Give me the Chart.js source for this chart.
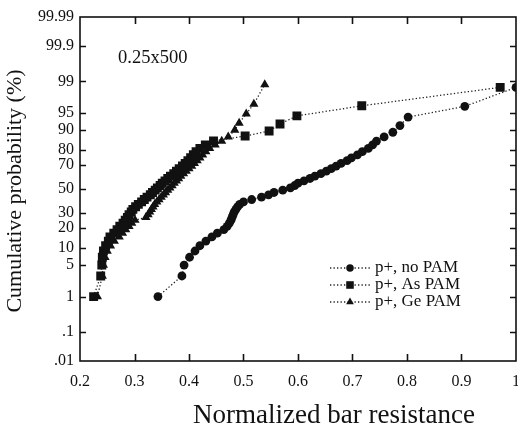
<!DOCTYPE html>
<html>
<head>
<meta charset="utf-8">
<script src="https://cdn.jsdelivr.net/npm/chart.js@4.4.1/dist/chart.umd.min.js"></script>
<style>
  html, body { margin: 0; padding: 0; background: #fff; }
  #wrap { position: relative; width: 518px; height: 428px; }
</style>
</head>
<body>
<div id="wrap"><canvas id="probChart"></canvas></div>
<script>
// ---- data (x = normalized resistance, y = cumulative %) ----
const seriesNames = ['p+, no PAM', 'p+, As PAM', 'p+, Ge PAM'];

const noPamX = [0.343,0.387,0.391,0.401,0.411,0.420,0.431,0.442,0.452,0.464,0.470,0.474,0.477,0.479,0.481,0.483,0.486,0.489,0.493,0.500,0.515,0.533,0.546,0.556,0.572,0.586,0.594,0.600,0.611,0.622,0.631,0.642,0.652,0.661,0.670,0.679,0.690,0.698,0.709,0.718,0.729,0.737,0.744,0.758,0.774,0.787,0.802,0.906,1.0];
const noPamY = [1,3,5,7,9,11,13,15,17,19,21,23,25,27,29,31,33,35,37,39,41,43,45,47,49,51,53,55,57,59,61,63,65,67,69,71,73,75,77,79,81,83,85,87,89,91.5,94,96.3,98.6];

const asPamX = [0.225,0.238,0.240,0.241,0.243,0.247,0.252,0.255,0.262,0.268,0.273,0.279,0.283,0.287,0.290,0.294,0.297,0.302,0.307,0.313,0.318,0.323,0.329,0.333,0.338,0.342,0.347,0.351,0.356,0.361,0.366,0.372,0.377,0.382,0.388,0.393,0.398,0.403,0.408,0.413,0.420,0.430,0.445,0.503,0.547,0.567,0.598,0.717,0.971];
const asPamY = [1,3,5,7,9,11,13,15,17,19,21,23,25,27,29,31,33,35,37,39,41,43,45,47,49,51,53,55,57,59,61,63,65,67,69,71,73,75,77,79,81,83,85,87.4,89.5,92,94.3,96.4,98.6];

const gePamX = [0.232,0.241,0.243,0.246,0.250,0.256,0.263,0.272,0.278,0.284,0.290,0.295,0.301,0.321,0.325,0.328,0.331,0.334,0.337,0.341,0.345,0.349,0.353,0.357,0.361,0.365,0.369,0.373,0.377,0.381,0.385,0.390,0.395,0.400,0.405,0.410,0.415,0.420,0.425,0.431,0.438,0.448,0.460,0.472,0.484,0.492,0.505,0.519,0.539];
const gePamY = [1,3,5,7,9,11,13,15,17,19,21,23,25,27,29,31,33,35,37,39,41,43,45,47,49,51,53,55,57,59,61,63,65,67,69,71,73,75,77,79,81,83,85,87,89.9,92.3,94.8,96.7,98.8];

const xTicks = [0.2,0.3,0.4,0.5,0.6,0.7,0.8,0.9,1.0];
const xTickLabels = ['0.2','0.3','0.4','0.5','0.6','0.7','0.8','0.9','1'];
const probTicks = [0.01,0.1,1,5,10,20,30,50,70,80,90,95,99,99.9,99.99];
const probTickLabels = ['.01','.1','1','5','10','20','30','50','70','80','90','95','99','99.9','99.99'];

const FONT = '"Liberation Serif", "Times New Roman", serif';

// inverse normal CDF (Acklam)
function probit(p) {
  const a = [-39.6968302866538, 220.946098424521, -275.928510446969, 138.357751867269, -30.6647980661472, 2.50662827745924];
  const b = [-54.4760987982241, 161.585836858041, -155.698979859887, 66.8013118877197, -13.2806815528857];
  const c = [-0.00778489400243029, -0.322396458041136, -2.40075827716184, -2.54973253934373, 4.37466414146497, 2.93816398269878];
  const d = [0.00778469570904146, 0.32246712907004, 2.445134137143, 3.75440866190742];
  const pl = 0.02425;
  let q, r;
  if (p < pl) {
    q = Math.sqrt(-2 * Math.log(p));
    return (((((c[0]*q+c[1])*q+c[2])*q+c[3])*q+c[4])*q+c[5]) / ((((d[0]*q+d[1])*q+d[2])*q+d[3])*q+1);
  }
  if (p > 1 - pl) {
    q = Math.sqrt(-2 * Math.log(1 - p));
    return -(((((c[0]*q+c[1])*q+c[2])*q+c[3])*q+c[4])*q+c[5]) / ((((d[0]*q+d[1])*q+d[2])*q+d[3])*q+1);
  }
  q = p - 0.5; r = q * q;
  return (((((a[0]*r+a[1])*r+a[2])*r+a[3])*r+a[4])*r+a[5])*q / (((((b[0]*r+b[1])*r+b[2])*r+b[3])*r+b[4])*r+1);
}
function normCdf(z) {
  // for getValueForPixel only
  const t = 1 / (1 + 0.2316419 * Math.abs(z));
  const dd = 0.3989423 * Math.exp(-z * z / 2);
  let p = dd * t * (0.3193815 + t * (-0.3565638 + t * (1.781478 + t * (-1.821256 + t * 1.330274))));
  return z > 0 ? 1 - p : p;
}

// normal-probability axis
class ProbitScale extends Chart.LinearScale {
  determineDataLimits() {
    this.min = probTicks[0];
    this.max = probTicks[probTicks.length - 1];
  }
  buildTicks() {
    return probTicks.map(value => ({ value }));
  }
  configure() {
    super.configure();
    this._zmin = probit(this.min / 100);
    this._zmax = probit(this.max / 100);
  }
  getPixelForValue(value) {
    if (value === null || value === undefined) return NaN;
    return this.getPixelForDecimal((probit(value / 100) - this._zmin) / (this._zmax - this._zmin));
  }
  getValueForPixel(pixel) {
    const z = this._zmin + this.getDecimalForPixel(pixel) * (this._zmax - this._zmin);
    return normCdf(z) * 100;
  }
}
ProbitScale.id = 'probit';
ProbitScale.defaults = { ticks: { callback: v => v } };
Chart.register(ProbitScale);

const pts = (xs, ys) => xs.map((x, i) => ({ x, y: ys[i] }));

const styles = [
  { pointStyle: 'circle', radius: 4.4 },
  { pointStyle: 'rect', radius: 6.3 },
  { pointStyle: 'triangle', radius: 5.3 }
];

const framePlugin = {
  id: 'frame',
  beforeDatasetsDraw(chart) {
    const { ctx, chartArea: a, scales: { x, y } } = chart;
    ctx.save();
    ctx.strokeStyle = '#111';
    ctx.lineWidth = 1.6;
    ctx.strokeRect(a.left, a.top, a.right - a.left, a.bottom - a.top);
    ctx.beginPath();
    x.ticks.forEach((t, i) => {
      if (i === 0 || i === x.ticks.length - 1) return;
      const px = Math.round(x.getPixelForTick(i)) + 0.5;
      ctx.moveTo(px, a.bottom); ctx.lineTo(px, a.bottom - 7);
      ctx.moveTo(px, a.top); ctx.lineTo(px, a.top + 7);
    });
    y.ticks.forEach((t, i) => {
      if (i === 0 || i === y.ticks.length - 1) return;
      const py = Math.round(y.getPixelForTick(i)) + 0.5;
      ctx.moveTo(a.left, py); ctx.lineTo(a.left + 6, py);
      ctx.moveTo(a.right, py); ctx.lineTo(a.right - 6, py);
    });
    ctx.stroke();
    ctx.fillStyle = '#111';
    ctx.textBaseline = 'middle';
    ctx.font = '18.5px ' + FONT;
    ctx.fillText('0.25x500', a.left + 38, a.top + 41);

    // axis titles
    ctx.font = '27px ' + FONT;
    ctx.textAlign = 'center';
    ctx.fillText('Normalized bar resistance', a.left + 254, 416);
    ctx.translate(15, (a.top + a.bottom) / 2 + 2);
    ctx.rotate(-Math.PI / 2);
    ctx.font = '22px ' + FONT;
    ctx.fillText('Cumulative probability (%)', 0, 0);
    ctx.restore();
  },
  afterDatasetsDraw(chart) {
    const { ctx, chartArea: a } = chart;
    ctx.save();
    chart.data.datasets.forEach((ds, i) => {
      const yy = a.top + 251 + i * 17;
      const x0 = a.left + 250;
      ctx.strokeStyle = '#222';
      ctx.lineWidth = 1.3;
      ctx.setLineDash([1.3, 2.2]);
      ctx.beginPath();
      ctx.moveTo(x0, yy); ctx.lineTo(x0 + 42, yy);
      ctx.stroke();
      ctx.setLineDash([]);
      ctx.fillStyle = '#111';
      Chart.helpers.drawPoint(ctx, { pointStyle: ds.pointStyle, radius: ds.pointRadius * 0.85, rotation: 0, borderWidth: 0 }, x0 + 20, yy);
      ctx.font = '17px ' + FONT;
      ctx.textBaseline = 'middle';
      ctx.fillText(ds.label, x0 + 45, yy);
    });
    ctx.restore();
  }
};

new Chart(document.getElementById('probChart'), {
  type: 'scatter',
  data: {
    datasets: [pts(noPamX, noPamY), pts(asPamX, asPamY), pts(gePamX, gePamY)].map((data, i) => ({
      label: seriesNames[i],
      data,
      showLine: true,
      borderColor: '#222',
      borderWidth: 1.3,
      borderDash: [1.3, 2.2],
      backgroundColor: '#111',
      pointBackgroundColor: '#111',
      pointBorderWidth: 0,
      pointStyle: styles[i].pointStyle,
      pointRadius: styles[i].radius,
      pointHoverRadius: styles[i].radius
    }))
  },
  options: {
    responsive: true,
    maintainAspectRatio: false,
    animation: false,
    layout: { autoPadding: false, padding: { top: 17, right: 2, left: 0, bottom: 0 } },
    plugins: { legend: { display: false }, tooltip: { enabled: false } },
    scales: {
      x: {
        type: 'linear',
        min: 0.2,
        max: 1.0,
        afterBuildTicks: s => { s.ticks = xTicks.map(value => ({ value })); },
        afterFit: s => { s.height = 67; s.paddingLeft = 0; s.paddingRight = 0; },
        grid: { display: false, drawTicks: true, tickLength: 18 },
        border: { display: false },
        ticks: {
          autoSkip: false,
          maxRotation: 0,
          padding: -7,
          color: '#111',
          font: { family: FONT, size: 16 },
          callback: (v, i) => xTickLabels[i]
        },
        title: { display: false }
      },
      y: {
        type: 'probit',
        afterFit: s => { s.width = 80; s.paddingTop = 0; s.paddingBottom = 0; },
        grid: { display: false, drawTicks: false },
        border: { display: false },
        ticks: {
          autoSkip: false,
          padding: 6,
          color: '#111',
          font: { family: FONT, size: 16 },
          callback: (v, i) => probTickLabels[i]
        },
        title: { display: false }
      }
    }
  },
  plugins: [framePlugin]
});
</script>
</body>
</html>
